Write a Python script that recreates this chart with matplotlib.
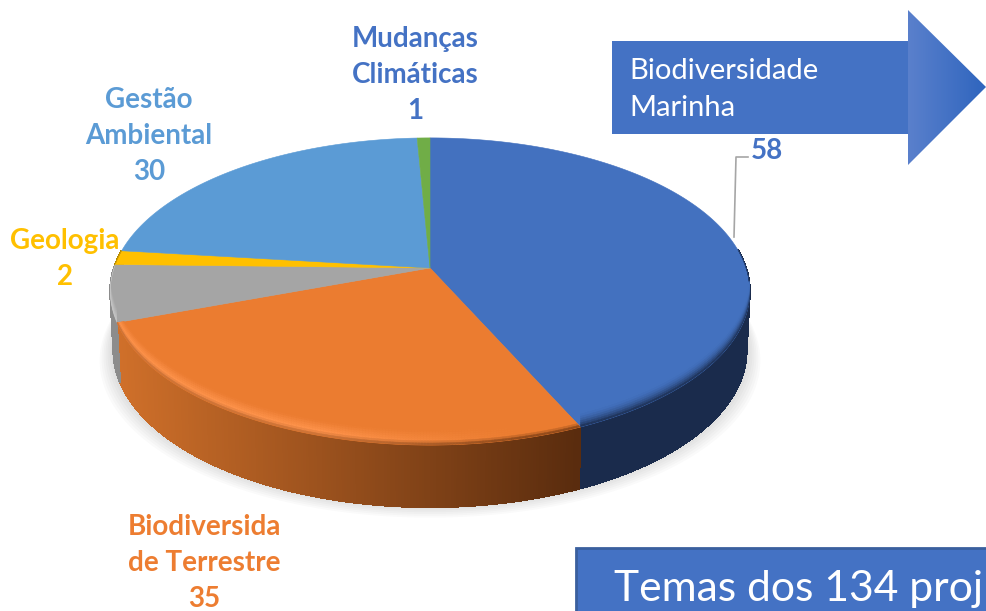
import numpy as np
from matplotlib import pyplot as plt
from matplotlib.collections import PolyCollection
from matplotlib.colors import to_rgb
from matplotlib.patches import Polygon, Rectangle

# slices, clockwise from 12 o'clock
values = [58, 35, 8, 2, 30, 1]
colors = ['#4371BF', '#EB7C30', '#A5A5A5', '#FFC000', '#5B9BD5', '#70AD47']
side_left = ['#1A2B4C', '#D0702A', '#8C8C8C', '#B08600', '#3F6E99', '#4E7A32']
side_right = ['#1A2B4C', '#5A2C0E', '#808080', '#B08600', '#3F6E99', '#4E7A32']

labels = ['58', 'Biodiversida\nde Terrestre\n35', None, 'Geologia\n2',
          'Gestão\nAmbiental\n30', 'Mudanças\nClimáticas\n1']
label_colors = ['#4472C4', '#ED7D31', None, '#FFC000', '#5B9BD5', '#4472C4']
label_pos = [(767, 151), (204, 563), None, (65, 259), (149, 136), (415, 75)]

arrow_text = 'Biodiversidade\nMarinha'
box_text = 'Temas dos 134 proj'

# pie geometry in pixels, tilted circle seen in perspective
cx, cy = 430, 268
rx, ry, persp = 316, 150, 0.153
depth = 58
bevel = 15


def project(theta, r=1.0):
    u = r * np.sin(theta)
    v = r * np.cos(theta)
    w = 1 + persp * v
    return cx + rx * u / w, cy - ry * v / w


def mix(a, b, t):
    return tuple(np.array(a) * (1 - t) + np.array(b) * t)


def side_bottom(theta):
    x, y = project(theta)
    return cx + (x - cx) * 0.99, y + depth - 4 * np.cos(theta)


def bevel_color(i, t, x):
    base = to_rgb(colors[i])
    dark = to_rgb(side_right[i])
    if i == 1:
        # orange rim has a light band that fades out towards the right
        glow = np.clip((520 - x) / 200, 0, 1)
        light = mix(base, (1.0, 0.58, 0.30), glow)
        if t < 0.7:
            return mix(base, light, t / 0.7)
        return mix(light, mix(dark, to_rgb('#B0602A'), glow), (t - 0.7) / 0.3 * 0.8)
    if i == 2:
        return mix(base, (0.78, 0.78, 0.78), t)
    return mix(base, dark, t ** 2)


fig = plt.figure(figsize=(9.86, 6.11), dpi=100)
ax = fig.add_axes([0, 0, 1, 1])
ax.set_xlim(0, 986)
ax.set_ylim(611, 0)
ax.axis('off')

edges = np.radians(np.concatenate([[0], np.cumsum(values)]) / sum(values) * 360)

# soft shadow under the pie
t_all = np.linspace(0, 2 * np.pi, 240)
sx, sy = side_bottom(t_all)
for grow in range(14, 0, -2):
    ax.fill(cx + (sx - cx) * (1 + grow / 320), sy + grow * 0.9 - 2,
            color='black', alpha=0.018, lw=0, zorder=1)

# outer side wall, only the front half shows
for i, value in enumerate(values):
    th = np.linspace(edges[i], edges[i + 1], max(int(value * 6), 3))
    quads, quad_colors = [], []
    for a, b in zip(th[:-1], th[1:]):
        if np.cos((a + b) / 2) > 0.12:
            continue
        xa, ya = project(a)
        xb, yb = project(b)
        xc, yc = side_bottom(b)
        xd, yd = side_bottom(a)
        quads.append([(xa, ya), (xb, yb), (xc, yc), (xd, yd)])
        t = np.clip((xa - 115) / (577 - 115), 0, 1)
        quad_colors.append(mix(to_rgb(side_left[i]), to_rgb(side_right[i]), t))
    if quads:
        ax.add_collection(PolyCollection(quads, facecolors=quad_colors,
                                         edgecolors=quad_colors, linewidths=0.8,
                                         antialiaseds=False, zorder=2))

# top face
for i, value in enumerate(values):
    th = np.linspace(edges[i], edges[i + 1], max(int(value * 6), 3))
    x, y = project(th)
    pts = np.column_stack([np.r_[cx, x], np.r_[cy, y]])
    face = Polygon(pts, closed=True, facecolor=colors[i], edgecolor=colors[i],
                   lw=0.4, zorder=3)
    ax.add_patch(face)

    # rounded rim on the front part of the slice
    quads, quad_colors = [], []
    steps = 7
    for a, b in zip(th[:-1], th[1:]):
        if np.cos((a + b) / 2) > 0.12:
            continue
        xa, ya = project(a)
        xb, yb = project(b)
        for s in range(steps):
            t0 = s / steps
            t1 = (s + 1) / steps
            quads.append([(xa, ya - bevel * (1 - t0)), (xb, yb - bevel * (1 - t0)),
                          (xb, yb - bevel * (1 - t1)), (xa, ya - bevel * (1 - t1))])
            quad_colors.append(bevel_color(i, (t0 + t1) / 2, (xa + xb) / 2))
    if quads:
        rim = PolyCollection(quads, facecolors=quad_colors, edgecolors=quad_colors,
                             linewidths=0.3, zorder=4)
        ax.add_collection(rim)
        rim.set_clip_path(face)

# data labels
for label, color, pos in zip(labels, label_colors, label_pos):
    if label is None:
        continue
    ax.text(pos[0], pos[1], label, color=color, family='Lato', weight='bold',
            fontsize=20, ha='center', va='center', linespacing=1.48, zorder=6)

# leader line for the big slice
ax.plot([734, 736, 748], [237, 157, 157], color='#A6A6A6', lw=1.2, zorder=5)

# arrow shape
head = Polygon([(908, 10), (986, 87), (908, 165)], closed=True, facecolor='none',
               edgecolor='none')
ax.add_patch(head)
ax.add_patch(Rectangle((612, 41), 297, 93, facecolor='#4472C4', edgecolor='none',
                       zorder=5))
grad = np.linspace(0, 1, 80).reshape(1, -1, 1)
light, deep = np.array(to_rgb('#5A80CC')), np.array(to_rgb('#2F65BE'))
img = ax.imshow(light + (deep - light) * grad, extent=(908, 986, 165, 10),
                aspect='auto', zorder=5)
img.set_clip_path(head)
ax.set_xlim(0, 986)
ax.set_ylim(611, 0)
ax.text(629, 89.5, arrow_text, color='white', family='Lato', fontsize=21,
        ha='left', va='center', linespacing=1.54, zorder=6)

# title box, runs off the slide
ax.add_patch(Rectangle((575.5, 547.5), 420, 70, facecolor='#4472C4',
                       edgecolor='#3A5F9E', lw=2, zorder=5))
ax.text(614, 589, box_text, color='white', family='Lato', fontsize=30.7,
        ha='left', va='center', zorder=6)

fig.savefig('out.png', dpi=100)
